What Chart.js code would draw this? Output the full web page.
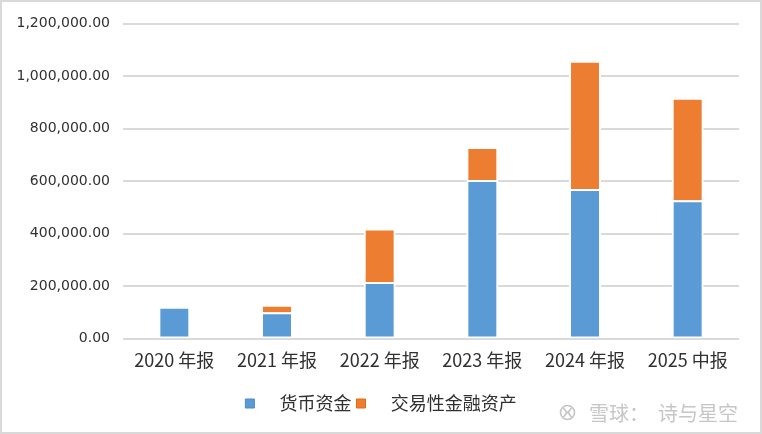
<!DOCTYPE html>
<html>
<head>
<meta charset="utf-8">
<script src="https://cdn.jsdelivr.net/npm/chart.js@4.4.1/dist/chart.umd.min.js"></script>
<style>
html,body{margin:0;padding:0;background:#ffffff;overflow:hidden}
#wrap{width:762px;height:434px;position:relative;background:#ffffff}
</style>
</head>
<body>
<div id="wrap"><canvas id="c"></canvas></div>
<script>
// ---- data ----
const categories = ['2020 年报', '2021 年报', '2022 年报', '2023 年报', '2024 年报', '2025 中报'];
const seriesNames = ['货币资金', '交易性金融资产'];
const cashValues = [117000, 96000, 211000, 600000, 566000, 523000];
const tradingValues = [null, 29000, 204000, 126000, 488000, 390000];
const yTickValues = [0, 200000, 400000, 600000, 800000, 1000000, 1200000];
const watermarkParts = ['雪球：', '诗与星空'];

const TEXT = '#303030';
const fmt = v => Number(v).toLocaleString('en-US', {minimumFractionDigits: 2, maximumFractionDigits: 2});

const framePlugin = {
  id: 'frame',
  afterDraw(chart) {
    const ctx = chart.ctx;
    ctx.save();
    // watermark logo
    ctx.strokeStyle = '#c4c4c4';
    ctx.lineWidth = 1.6;
    ctx.beginPath();
    ctx.arc(567.5, 412.5, 7, 0, Math.PI * 2);
    ctx.stroke();
    ctx.beginPath();
    ctx.moveTo(563.5, 408); ctx.lineTo(567, 412.5); ctx.lineTo(563.5, 417);
    ctx.moveTo(571.5, 408); ctx.lineTo(568, 412.5); ctx.lineTo(571.5, 417);
    ctx.stroke();
    // watermark text
    ctx.fillStyle = '#c6c6c6';
    ctx.font = '20px "Noto Sans CJK SC"';
    ctx.textBaseline = 'middle';
    ctx.textAlign = 'left';
    ctx.fillText(watermarkParts[0], 589, 413);
    ctx.fillText(watermarkParts[1], 658, 413);
    // outer frame
    ctx.strokeStyle = '#d9d9d9';
    ctx.lineWidth = 2;
    ctx.strokeRect(1, 1, chart.width - 2, chart.height - 2);
    ctx.restore();
  }
};

const ctx = document.getElementById('c');
new Chart(ctx, {
  type: 'bar',
  data: {
    labels: categories,
    datasets: [
      {
        label: seriesNames[0],
        data: cashValues,
        backgroundColor: '#5B9BD5',
        borderColor: '#ffffff',
        borderWidth: 2,
        borderSkipped: false,
        inflateAmount: 1,
        legendStroke: '#4a89cf'
      },
      {
        label: seriesNames[1],
        data: tradingValues,
        backgroundColor: '#ED7D31',
        borderColor: '#ffffff',
        borderWidth: 2,
        borderSkipped: false,
        inflateAmount: 1,
        legendStroke: '#e86812'
      }
    ]
  },
  options: {
    responsive: true,
    maintainAspectRatio: false,
    animation: false,
    categoryPercentage: 1,
    barPercentage: 0.292,
    layout: { padding: { left: 0, right: 0, top: 23.5, bottom: 11.5 } },
    scales: {
      x: {
        stacked: true,
        grid: { display: false, drawTicks: false },
        border: { display: false },
        ticks: {
          color: TEXT,
          font: { family: '"Noto Sans CJK SC"', size: 18 },
          padding: 11,
          maxRotation: 0,
          autoSkip: false
        },
        afterFit(s) { s.height = 51; }
      },
      y: {
        stacked: true,
        min: 0,
        max: 1200000,
        afterBuildTicks(s) { s.ticks = yTickValues.map(v => ({ value: v })); },
        grid: {
          color: '#d9d9d9',
          lineWidth: 2,
          drawTicks: false
        },
        border: { display: false },
        ticks: {
          color: TEXT,
          font: { family: '"DejaVu Sans"', size: 14 },
          padding: 13,
          callback: v => fmt(v)
        },
        afterFit(s) { s.width = 123; }
      },
      rightSpace: {
        type: 'linear',
        position: 'right',
        display: true,
        grid: { display: false, drawTicks: false },
        border: { display: false },
        ticks: { display: false },
        afterFit(s) { s.width = 23; }
      }
    },
    plugins: {
      tooltip: { enabled: false },
      legend: {
        position: 'bottom',
        labels: {
          color: TEXT,
          font: { family: '"Noto Sans CJK SC"', size: 18 },
          boxWidth: 9,
          boxHeight: 9,
          padding: 5,
          generateLabels(chart) {
            return chart.data.datasets.map((ds, i) => ({
              text: '    ' + ds.label,
              fillStyle: ds.backgroundColor,
              strokeStyle: ds.legendStroke,
              lineWidth: 1,
              fontColor: TEXT,
              hidden: false,
              datasetIndex: i
            }));
          }
        }
      }
    }
  },
  plugins: [framePlugin]
});
</script>
</body>
</html>
